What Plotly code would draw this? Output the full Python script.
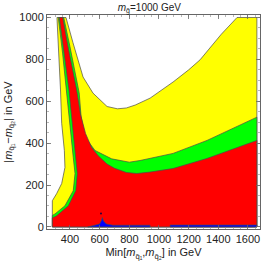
import plotly.graph_objects as go

# ---- region boundaries (GeV) ----
yellow_x = [312, 373, 420, 488, 555, 650, 720, 780, 840, 940, 1095, 1200, 1277, 1344, 1420, 1526, 1660, 1660,
            281, 281, 310, 344, 366, 362, 344, 336, 325, 312]
yellow_y = [1000, 1000, 880, 716, 639, 575, 564, 568, 582, 615, 692, 750, 798, 856, 920, 1000, 1000, 0,
            0, 125, 159, 207, 284, 365, 495, 654, 820, 1000]

green_x = [321, 358, 400, 440, 462, 475, 501, 569, 681, 800, 872, 1095, 1324, 1660, 1660,
           281, 281, 299, 366, 422, 434, 422, 400, 378, 350, 321]
green_y = [1000, 1000, 860, 720, 640, 526, 429, 365, 325, 309, 317, 351, 413, 524, 0,
           0, 55, 62, 101, 173, 255, 332, 495, 654, 830, 1000]

red_x = [328, 351, 395, 445, 470, 505, 545, 590, 650, 700, 780, 850, 940, 1095, 1324, 1660, 1660,
         281, 281, 310, 389, 439, 449, 439, 416, 393, 360, 328]
red_y = [1000, 1000, 830, 654, 540, 446, 380, 340, 300, 280, 260, 255, 262, 279, 327, 413, 0,
         0, 43, 53, 101, 173, 255, 332, 495, 654, 830, 1000]

blue1_x = [520, 560, 600, 612, 618, 626, 645, 690, 940, 940, 520]
blue1_y = [0, 6, 14, 30, 45, 28, 14, 8, 8, 0, 0]
blue2_x = [1075, 1075, 1660, 1660, 1075]
blue2_y = [0, 9, 9, 0, 0]
dot_x = [609]
dot_y = [64]

x_ticks = [400, 600, 800, 1000, 1200, 1400, 1600]
y_ticks = [0, 200, 400, 600, 800, 1000]

fig = go.Figure()
edge = dict(color="#4a4a4a", width=0.7)
for xs, ys, col in [(yellow_x, yellow_y, "#FFFF00"), (green_x, green_y, "#00FF00"),
                    (red_x, red_y, "#FF0000"), (blue1_x, blue1_y, "#0000FF"), (blue2_x, blue2_y, "#0000FF")]:
    fig.add_trace(go.Scatter(x=xs, y=ys, fill="toself", fillcolor=col, mode="lines",
                             line=edge, hoverinfo="skip", showlegend=False))
fig.add_trace(go.Scatter(x=dot_x, y=dot_y, mode="markers", marker=dict(size=2, color="#220044"),
                         showlegend=False, hoverinfo="skip"))

axis_common = dict(showgrid=False, zeroline=False, showline=True, linecolor="#666666", linewidth=1,
                   mirror="allticks", ticks="inside", ticklen=4, tickcolor="#666666", tickwidth=0.8,
                   tickfont=dict(family="Liberation Sans, Arial", size=11, color="#222222"))

fig.update_xaxes(range=[245, 1681], tickvals=x_ticks, ticktext=[str(v) for v in x_ticks],
                 minor=dict(dtick=50, tick0=0, ticks="inside", ticklen=2, tickcolor="#888888", tickwidth=0.6),
                 title=dict(text="Min[<i>m</i><sub>q̃₁</sub>,<i>m</i><sub>q̃₂</sub>] in GeV",
                            font=dict(family="Liberation Sans, Arial", size=11, color="#222222"), standoff=4),
                 **axis_common)
fig.update_yaxes(range=[-10, 1012], tickvals=y_ticks, ticktext=[str(v) for v in y_ticks],
                 minor=dict(dtick=50, tick0=0, ticks="inside", ticklen=2, tickcolor="#888888", tickwidth=0.6),
                 title=dict(text="|<i>m</i><sub>q̃₁</sub>−<i>m</i><sub>q̃₂</sub>| in GeV",
                            font=dict(family="Liberation Sans, Arial", size=11, color="#222222"), standoff=4),
                 **axis_common)

fig.update_layout(
    width=262, height=266,
    margin=dict(l=47, r=2, t=15, b=37),
    paper_bgcolor="white", plot_bgcolor="white",
    title=dict(text="<i>m</i><sub>g̃</sub>=1000 GeV", x=0.57, xanchor="center", y=0.985, yanchor="top",
               font=dict(family="Liberation Sans, Arial", size=10, color="#222222")),
    showlegend=False,
)

fig.write_html("out.html", config={"displayModeBar": False, "staticPlot": True},
               post_script="document.body.style.margin='0px';")
